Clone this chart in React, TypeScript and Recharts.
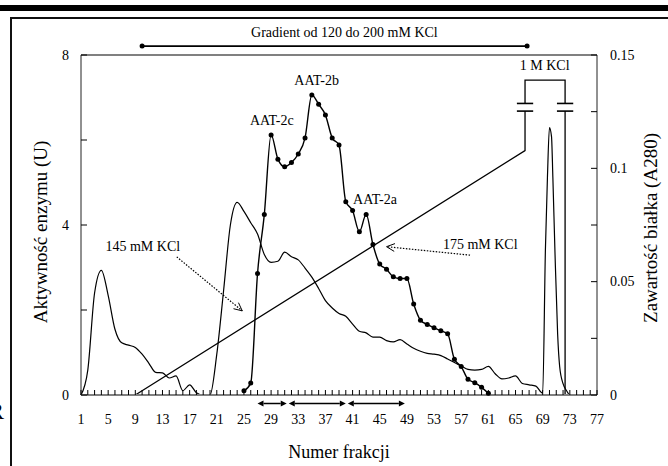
import React from 'react';
import { ComposedChart, Line, XAxis, YAxis, ReferenceLine, ReferenceDot, Label } from 'recharts';

const FONT = '"Liberation Serif", "Times New Roman", serif';
const W = 668;
const H = 466;

// ---- data ----
const proteinFraction = [
  1, 2, 3, 4, 5, 6, 7, 8, 9, 10, 11, 12, 13, 14, 15, 16, 17, 18, 19, 20,
  21, 22, 23, 24, 25, 26, 27, 28, 29, 30, 31, 32, 33, 34, 35, 36, 37, 38, 39, 40,
  41, 42, 43, 44, 45, 46, 47, 48, 49, 50, 51, 52, 53, 54, 55, 56, 57, 58, 59, 60,
  61, 62, 63, 64, 65, 66, 67, 68, 69, 69.4, 69.7, 70, 70.3, 70.5, 70.8, 71.2, 71.5, 72, 72.5,
  73, 74, 75, 76, 77,
];
const proteinA280 = [
  0, 0.011, 0.045, 0.055, 0.044, 0.029, 0.023, 0.022, 0.021, 0.018, 0.014, 0.010, 0.0098, 0.0075, 0.0084, 0.0019, 0.0045, 0.001, 0, 0,
  0.018, 0.046, 0.075, 0.085, 0.081, 0.076, 0.071, 0.062, 0.0585, 0.059, 0.063, 0.061, 0.0596, 0.056, 0.052, 0.047, 0.0416, 0.0384, 0.036, 0.0347,
  0.0313, 0.0281, 0.0274, 0.0255, 0.0255, 0.024, 0.0234, 0.0244, 0.0225, 0.0206, 0.0193, 0.0184, 0.018, 0.0174, 0.0159, 0.0143, 0.0128, 0.0113, 0.011, 0.0113,
  0.0126, 0.0094, 0.0071, 0.0075, 0.0084, 0.0051, 0.0045, 0.0039, 0.0008, 0.064, 0.096, 0.118, 0.114, 0.096, 0.064, 0.027, 0.0126, 0.005, 0.002,
  0, 0, 0, 0, 0,
];

const activityFraction = [
  25, 26, 27, 28, 29, 30, 31, 32, 33, 34, 35, 36, 37, 38, 39, 40, 41, 42, 43,
  44, 45, 46, 47, 48, 49, 50, 51, 52, 53, 54, 55, 56, 57, 58, 59, 60, 61,
];
const activityU = [
  0.1, 0.28, 2.86, 4.25, 6.12, 5.55, 5.37, 5.47, 5.67, 6.05, 7.06, 6.84, 6.59, 6.05, 5.88, 4.55, 4.34, 3.84, 4.25,
  3.54, 3.08, 2.96, 2.78, 2.74, 2.74, 2.14, 1.76, 1.66, 1.58, 1.51, 1.44, 0.84, 0.67, 0.37, 0.29, 0.18, 0.04,
];

// KCl gradient schematic (drawn on the activity scale)
const gradientFraction = [9, 66.4, 66.4, 66.4, 66.4, 66.4, 72.3, 72.3, 72.3, 72.3, 72.3];
const gradientLevel = [0, 5.75, 6.68, null, 6.86, 7.41, 7.41, 6.86, null, 6.68, 0];

// tick labels
const xLabelTicks = [1, 5, 9, 13, 17, 21, 25, 29, 33, 37, 41, 45, 49, 53, 57, 61, 65, 69, 73, 77];
const xMinorTicks = Array.from({ length: 77 }, (_, i) => i + 1);
const leftTicks = [0, 2, 4, 6, 8];
const leftLabelTicks = [0, 4, 8];
const rightTicks = [0, 0.025, 0.05, 0.075, 0.1, 0.125, 0.15];
const rightLabelTicks = [0, 0.05, 0.1, 0.15];

// pooled fraction ranges (arrows under the axis)
const poolRanges = [
  [27, 31.3],
  [31.6, 40],
  [40.3, 48.7],
];

// annotations (data coordinates on the activity scale)
const breakBars = [
  { from: 65.2, to: 67.6, level: 6.86 },
  { from: 65.2, to: 67.6, level: 6.68 },
  { from: 71.1, to: 73.5, level: 6.86 },
  { from: 71.1, to: 73.5, level: 6.68 },
];
const gradientBar = { from: 10, to: 66.7, level: 8.21 };
const textNotes = [
  { f: 39.8, v: 8.52, text: 'Gradient od 120 do 200 mM KCl' },
  { f: 29.1, v: 6.45, text: 'AAT-2c' },
  { f: 35.7, v: 7.39, text: 'AAT-2b' },
  { f: 44.3, v: 4.61, text: 'AAT-2a' },
  { f: 10.1, v: 3.5, text: '145 mM KCl' },
  { f: 59.8, v: 3.53, text: '175 mM KCl' },
  { f: 69.3, v: 7.76, text: '1 M KCl' },
];
const dottedArrows = [
  { f1: 15.1, v1: 3.25, f2: 24.75, v2: 1.98 },
  { f1: 58.3, v1: 3.29, f2: 46.0, v2: 3.49 },
];

const proteinData = proteinFraction.map((f, i) => ({ f, a280: proteinA280[i] }));
const activityData = activityFraction.map((f, i) => ({ f, u: activityU[i] }));
const gradientData = gradientFraction.map((f, i) => ({ f, g: gradientLevel[i] }));

// ---- renderers ----
const XTick = (p: any) => {
  const { x, y, payload } = p;
  const v = payload.value;
  return (
    <g>
      <line x1={x} x2={x} y1={y} y2={y - 5} stroke="#000" strokeWidth={1} />
      {xLabelTicks.includes(v) && (
        <text x={x} y={y + 24} textAnchor="middle" dominantBaseline="central" fontSize={14} fontFamily={FONT} fill="#000">
          {v}
        </text>
      )}
    </g>
  );
};

const LeftTick = (p: any) => {
  const { x, y, payload } = p;
  const v = payload.value;
  return (
    <g>
      <line x1={x} x2={x + 6} y1={y} y2={y} stroke="#000" strokeWidth={1} />
      {leftLabelTicks.includes(v) && (
        <text x={x - 12} y={y} textAnchor="end" dominantBaseline="central" fontSize={14} fontFamily={FONT} fill="#000">
          {v}
        </text>
      )}
    </g>
  );
};

const RightTick = (p: any) => {
  const { x, y, payload } = p;
  const v = payload.value;
  return (
    <g>
      <line x1={x} x2={x - 6} y1={y} y2={y} stroke="#000" strokeWidth={1} />
      {rightLabelTicks.includes(v) && (
        <text x={x + 13} y={y} textAnchor="start" dominantBaseline="central" fontSize={14} fontFamily={FONT} fill="#000">
          {String(v)}
        </text>
      )}
    </g>
  );
};

const LeftTitle = (p: any) => {
  const vb = p.viewBox || { x: 0, y: 55, width: 81, height: 340 };
  const cx = vb.x + 40;
  const cy = vb.y + vb.height / 2 + 7;
  return (
    <text x={cx} y={cy} transform={`rotate(-90 ${cx} ${cy})`} textAnchor="middle" dominantBaseline="central" fontSize={19} fontFamily={FONT} fill="#000">
      Aktywność enzymu (U)
    </text>
  );
};

const RightTitle = (p: any) => {
  const vb = p.viewBox || { x: 597, y: 55, width: 71, height: 340 };
  const cx = vb.x + 53;
  const cy = vb.y + vb.height / 2 + 3;
  return (
    <text x={cx} y={cy} transform={`rotate(-90 ${cx} ${cy})`} textAnchor="middle" dominantBaseline="central" fontSize={19} fontFamily={FONT} fill="#000">
      Zawartość białka (A280)
    </text>
  );
};

const XTitle = (p: any) => {
  const vb = p.viewBox || { x: 81, y: 395, width: 516, height: 71 };
  return (
    <text x={vb.x + vb.width / 2} y={vb.y + 57} textAnchor="middle" dominantBaseline="central" fontSize={18} fontFamily={FONT} fill="#000">
      Numer frakcji
    </text>
  );
};

const DoubleArrow = (p: any) => {
  const { x1, y1, x2 } = p;
  const y = y1;
  const h = 6;
  const w = 3;
  return (
    <g>
      <line x1={x1 + h} y1={y} x2={x2 - h} y2={y} stroke="#000" strokeWidth={1.5} />
      <polygon points={`${x1},${y} ${x1 + h},${y - w} ${x1 + h},${y + w}`} fill="#000" />
      <polygon points={`${x2},${y} ${x2 - h},${y - w} ${x2 - h},${y + w}`} fill="#000" />
    </g>
  );
};

const DottedArrow = (p: any) => {
  const { x1, y1, x2, y2 } = p;
  const ang = Math.atan2(y2 - y1, x2 - x1);
  const L = 9;
  const a = 0.45;
  const ax = x2 - L * Math.cos(ang - a);
  const ay = y2 - L * Math.sin(ang - a);
  const bx = x2 - L * Math.cos(ang + a);
  const by = y2 - L * Math.sin(ang + a);
  return (
    <g stroke="#000" strokeWidth={1.2} strokeDasharray="1.5 1.5" fill="none">
      <line x1={x1} y1={y1} x2={x2} y2={y2} />
      <polyline points={`${ax},${ay} ${x2},${y2} ${bx},${by}`} strokeDasharray="none" strokeWidth={1} />
    </g>
  );
};

const makeTextShape = (text: string) => (p: any) => (
  <text x={p.cx} y={p.cy} textAnchor="middle" dominantBaseline="central" fontSize={14} fontFamily={FONT} fill="#000">
    {text}
  </text>
);

export default function App() {
  return (
    <div style={{ position: 'absolute', left: 0, top: 0, width: W, height: H, overflow: 'hidden', background: '#fff' }}>
      <div style={{ position: 'absolute', left: 0, top: 5, width: W, height: 6, background: '#000' }} />
      <div
        style={{
          position: 'absolute',
          left: 10,
          top: 17,
          width: W + 20,
          height: H + 20,
          borderLeft: '2px solid #111',
          borderTop: '2px solid #111',
        }}
      />
      <div style={{ position: 'absolute', left: -12, top: 399, fontSize: 24, lineHeight: 1, fontFamily: FONT, color: '#000' }}>R</div>
      <div style={{ position: 'absolute', left: 0, top: 0 }}>
        <ComposedChart width={W} height={H} margin={{ top: 55, right: 0, bottom: 0, left: 0 }}>
          <XAxis
            xAxisId={0}
            type="number"
            dataKey="f"
            domain={[1, 77]}
            ticks={xMinorTicks}
            interval={0}
            tick={(p: any) => <XTick {...p} />}
            tickLine={false}
            tickSize={0}
            tickMargin={0}
            axisLine={{ stroke: '#808080', strokeWidth: 2 }}
            height={71}
          >
            <Label content={XTitle} />
          </XAxis>
          <YAxis
            yAxisId="left"
            type="number"
            domain={[0, 8]}
            ticks={leftTicks}
            interval={0}
            tick={(p: any) => <LeftTick {...p} />}
            tickLine={false}
            tickSize={0}
            tickMargin={0}
            axisLine={{ stroke: '#222', strokeWidth: 1 }}
            width={81}
          >
            <Label content={LeftTitle} />
          </YAxis>
          <YAxis
            yAxisId="right"
            orientation="right"
            type="number"
            domain={[0, 0.15]}
            ticks={rightTicks}
            interval={0}
            tick={(p: any) => <RightTick {...p} />}
            tickLine={false}
            tickSize={0}
            tickMargin={0}
            axisLine={{ stroke: '#222', strokeWidth: 1 }}
            width={71}
          >
            <Label content={RightTitle} />
          </YAxis>

          <ReferenceLine yAxisId="left" y={8} stroke="#808080" strokeWidth={2} ifOverflow="visible" />

          <Line
            yAxisId="right"
            data={proteinData}
            dataKey="a280"
            type="monotone"
            stroke="#000"
            strokeWidth={1.2}
            dot={false}
            isAnimationActive={false}
          />
          <Line
            yAxisId="left"
            data={gradientData}
            dataKey="g"
            type="linear"
            stroke="#000"
            strokeWidth={1.3}
            dot={false}
            connectNulls={false}
            isAnimationActive={false}
          />
          <Line
            yAxisId="left"
            data={activityData}
            dataKey="u"
            type="monotone"
            stroke="#000"
            strokeWidth={1.4}
            dot={{ r: 2.5, fill: '#000', stroke: '#000', strokeWidth: 0 }}
            isAnimationActive={false}
          />

          {breakBars.map((b, i) => (
            <ReferenceLine
              key={`bb${i}`}
              yAxisId="left"
              segment={[
                { x: b.from, y: b.level },
                { x: b.to, y: b.level },
              ]}
              stroke="#000"
              strokeWidth={1.6}
              ifOverflow="visible"
            />
          ))}

          <ReferenceLine
            yAxisId="left"
            segment={[
              { x: gradientBar.from, y: gradientBar.level },
              { x: gradientBar.to, y: gradientBar.level },
            ]}
            stroke="#000"
            strokeWidth={1.8}
            ifOverflow="visible"
          />
          <ReferenceDot yAxisId="left" x={gradientBar.from} y={gradientBar.level} r={2.5} fill="#000" stroke="none" ifOverflow="visible" />
          <ReferenceDot yAxisId="left" x={gradientBar.to} y={gradientBar.level} r={2.5} fill="#000" stroke="none" ifOverflow="visible" />

          {poolRanges.map((r, i) => (
            <ReferenceLine
              key={`pr${i}`}
              yAxisId="left"
              segment={[
                { x: r[0], y: -0.2 },
                { x: r[1], y: -0.2 },
              ]}
              shape={DoubleArrow}
              ifOverflow="visible"
            />
          ))}

          {dottedArrows.map((a, i) => (
            <ReferenceLine
              key={`da${i}`}
              yAxisId="left"
              segment={[
                { x: a.f1, y: a.v1 },
                { x: a.f2, y: a.v2 },
              ]}
              shape={DottedArrow}
              ifOverflow="visible"
            />
          ))}

          {textNotes.map((t, i) => (
            <ReferenceDot key={`tn${i}`} yAxisId="left" x={t.f} y={t.v} r={1} ifOverflow="visible" shape={makeTextShape(t.text)} />
          ))}
        </ComposedChart>
      </div>
    </div>
  );
}
